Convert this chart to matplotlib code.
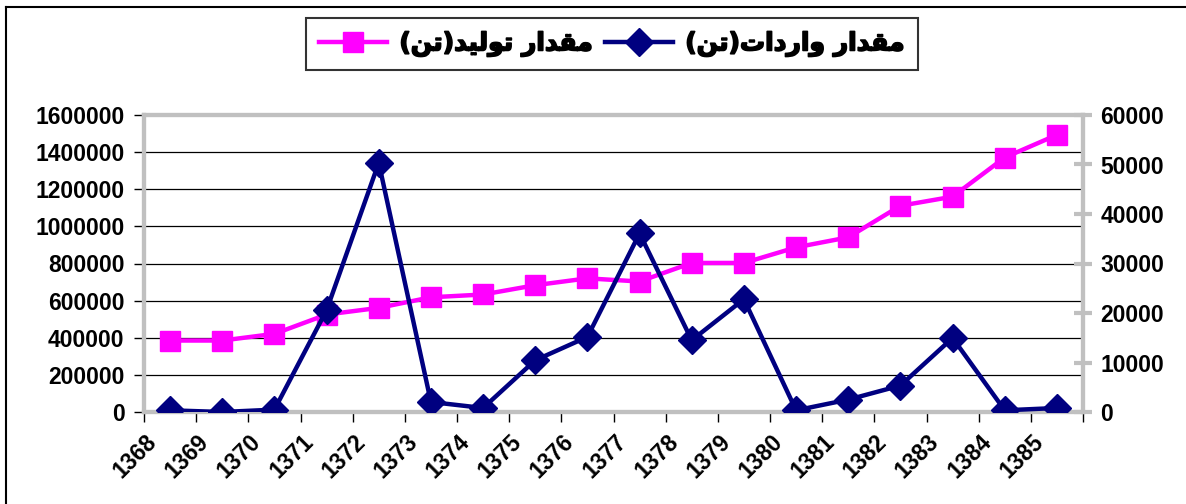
import numpy as np
import matplotlib.pyplot as plt
import matplotlib.transforms as mtransforms
import matplotlib.patheffects as pe
from matplotlib.lines import Line2D
from matplotlib.ticker import StrMethodFormatter

years = ['1368', '1369', '1370', '1371', '1372', '1373', '1374', '1375', '1376',
         '1377', '1378', '1379', '1380', '1381', '1382', '1383', '1384', '1385']
tolid = [385000, 385000, 421000, 525000, 561000, 618000, 633000, 683000, 720000,
         703000, 803000, 803000, 887000, 941000, 1111000, 1160000, 1371000, 1493000]
vardat = [340, 0, 480, 20570, 50350, 2020, 810, 10450, 15170,
          36080, 14500, 22790, 340, 2500, 5340, 14960, 340, 810]

# matn-e farsi be soorat-e tarkib shode (presentation forms, tartib-e didari)
lbl_tolid = '(\ufee6\ufe97)\ufeaa\ufef4\ufedf\ufeee\ufe97 \ufead\ufe8d\ufeaa\ufed8\ufee3'
lbl_vardat = '(\ufee6\ufe97)\ufe95\ufe8d\ufea9\ufead\ufe8d\ufeed \ufead\ufe8d\ufeaa\ufed8\ufee3'

plt.rcParams['font.family'] = ['Liberation Sans', 'DejaVu Sans']
plt.rcParams['font.weight'] = 'bold'

fig = plt.figure(figsize=(11.86, 5.04), dpi=100)
ax = fig.add_axes([144/1186, 92/504, (1083-144)/1186, (412-115)/504])
ax2 = ax.twinx()

x = np.arange(len(years))

l1, = ax.plot(x, tolid, color='#ff00ff', lw=3.2, marker='s', markersize=15,
              label=lbl_tolid, zorder=3)
l2, = ax2.plot(x, vardat, color='#000080', lw=3.2, marker='D', markersize=14,
               label=lbl_vardat, zorder=3)

ax.set_xlim(-0.5, len(years) - 0.5)
ax.set_ylim(0, 1600000)
ax2.set_ylim(0, 60000)
ax.set_yticks(np.arange(0, 1600001, 200000))
ax2.set_yticks(np.arange(0, 60001, 10000))
ax.yaxis.set_major_formatter(StrMethodFormatter('{x:.0f}'))

ax.set_xticks(np.arange(-0.5, len(years), 1))
ax.set_xticklabels([])
ax.set_xticks(x, minor=True)
ax.set_xticklabels(years, minor=True, rotation=45, ha='right', va='center',
                   rotation_mode='anchor', fontsize=16.5, fontweight='bold')
ax.tick_params(axis='x', which='minor', length=0, pad=19)
ax.tick_params(axis='x', which='major', length=7, width=1, color='black', direction='out')
off = mtransforms.ScaledTranslation(-17/100, 0, fig.dpi_scale_trans)
for t in ax.get_xticklabels(minor=True):
    t.set_transform(t.get_transform() + off)

ax.tick_params(axis='y', length=7, width=1, color='black', labelsize=16.5, pad=7)
ax2.tick_params(axis='y', length=13, width=3, color='#c0c0c0', direction='inout',
                labelsize=16.5, pad=6)
for t in ax.get_yticklabels() + ax2.get_yticklabels():
    t.set_fontweight('bold')

ax.grid(axis='y', color='black', lw=0.9)
ax.set_axisbelow(True)
ax2.set_zorder(ax.get_zorder() + 1)
ax2.patch.set_visible(False)

for a in (ax, ax2):
    for s in a.spines.values():
        s.set_color('#c0c0c0')
        s.set_linewidth(3)

leg = fig.legend([l1, l2], [lbl_tolid, lbl_vardat], ncol=2, loc='center',
                 bbox_to_anchor=(612/1186, 1 - 44/504), frameon=True, fancybox=False,
                 edgecolor='black', prop={'family': ['DejaVu Sans'], 'weight': 'bold', 'size': 18},
                 handlelength=2.7, columnspacing=0.5, handletextpad=0.5,
                 borderpad=0.55)
leg.get_frame().set_linewidth(1.5)
for t in leg.get_texts():
    t.set_path_effects([pe.withStroke(linewidth=1.2, foreground='black')])

# khat-e hashie bala va chap
fig.add_artist(Line2D([6/1186, 1], [1 - 7/504, 1 - 7/504], transform=fig.transFigure,
                      color='black', lw=1.5))
fig.add_artist(Line2D([6/1186, 6/1186], [0, 1 - 7/504], transform=fig.transFigure,
                      color='black', lw=1.5))

fig.savefig('out.png', dpi=100)
